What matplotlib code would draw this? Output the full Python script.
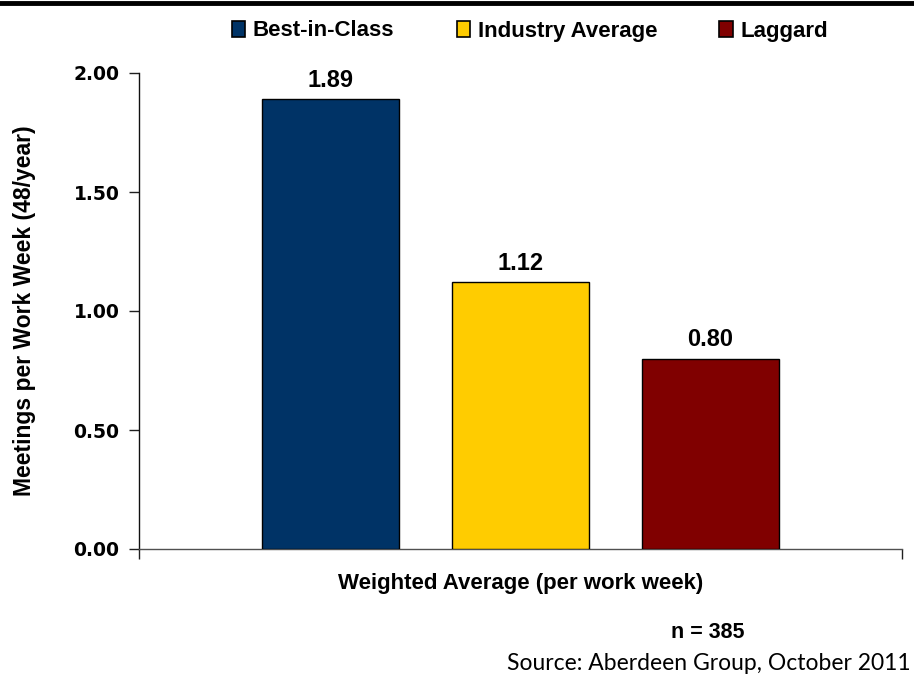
import matplotlib
matplotlib.use("Agg")
import matplotlib.pyplot as plt
from matplotlib.lines import Line2D
from matplotlib.patches import Patch

series = ["Best-in-Class", "Industry Average", "Laggard"]
values = [1.89, 1.12, 0.80]
colors = ["#003366", "#FFCC00", "#800000"]
category = "Weighted Average (per work week)"
yticks = [0.0, 0.5, 1.0, 1.5, 2.0]
ytick_labels = ["0.00", "0.50", "1.00", "1.50", "2.00"]

fig = plt.figure(figsize=(9.14, 6.75), dpi=100)
ax = fig.add_axes([139/914, 1-549/675, (902-139)/914, (549-73)/675])

positions = [-1, 0, 1]
width = 137/190
bars = ax.bar(positions, values, width=width, color=colors, edgecolor="black", linewidth=1.0, zorder=3)
for p, v in zip(positions, values):
    ax.text(p, v + 0.03, f"{v:.2f}", ha="center", va="bottom",
            fontsize=17, fontweight="bold", family="Liberation Sans")

half = 763/190/2
ax.set_xlim(-half, half)
ax.set_ylim(0, 2.0)
ax.set_yticks(yticks)
ax.set_yticklabels(ytick_labels, fontsize=13.5, fontweight="bold", family="DejaVu Sans")
ax.set_xticks([-half, half])
ax.set_xticklabels(["", ""])
ax.tick_params(axis="x", length=7, width=1, color="#202020", direction="out")
ax.tick_params(axis="y", length=7, width=1, color="#202020", direction="out", pad=7)
for s in ["top", "right"]:
    ax.spines[s].set_visible(False)
ax.spines["left"].set_color("#101010")
ax.spines["bottom"].set_color("#505050")
ax.spines["left"].set_linewidth(1.0)
ax.spines["bottom"].set_linewidth(1.0)

ax.set_xlabel(category, fontsize=16, fontweight="bold", family="Liberation Sans", labelpad=7)
ax.set_ylabel("Meetings per Work Week (48/year)", fontsize=16.5, fontweight="bold",
              family="Liberation Sans")
ax.yaxis.set_label_coords(-(139-36)/763, 0.5)

handles = [Patch(facecolor=c, edgecolor="black", linewidth=1.2) for c in colors]
fig.legend(handles, series, loc="center", bbox_to_anchor=(530/914, 1-31/675), ncol=3,
           frameon=False, prop={"family": "Liberation Sans", "weight": "bold", "size": 16},
           handlelength=0.6, handleheight=0.75, handletextpad=0.35, columnspacing=2.8)

fig.add_artist(Line2D([0, 1], [1-3/675, 1-3/675], color="black", linewidth=3.5))

fig.text(708/914, 1-632/675, "n = 385", ha="center", va="center",
         fontsize=15.5, fontweight="bold", family="Liberation Sans")
fig.text(507/914, 1-663/675, "Source: Aberdeen Group, October 2011", ha="left", va="center",
         fontsize=16.5, family="Lato")

fig.savefig("out.png", dpi=100)
